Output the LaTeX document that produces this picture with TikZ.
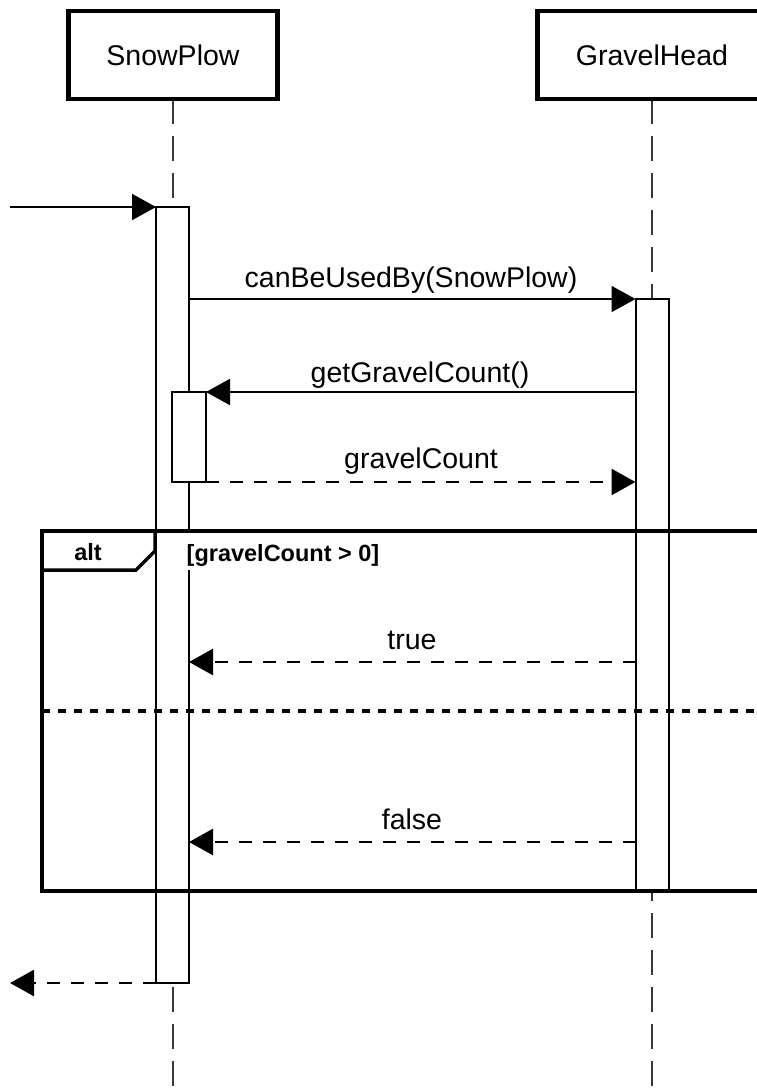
\documentclass[tikz,border=0pt]{standalone}
\usepackage{fontspec}
\setmainfont{Liberation Sans}
\usetikzlibrary{arrows.meta}
\begin{document}
\begin{tikzpicture}[x=1pt,y=-1pt,
  obj/.style={draw=black, line width=4.5pt, fill=white, minimum width=209pt, minimum height=88pt, inner sep=0pt, outer sep=0pt, font=\fontsize{28.5}{34}\selectfont},
  life/.style={draw=black!78, line width=2.5pt, dash pattern=on 25pt off 12pt},
  actbar/.style={draw=black, line width=2pt, fill=white, inner sep=0pt, outer sep=0pt, minimum width=33pt},
  msg/.style={line width=2pt, -{Triangle[length=24pt,width=26pt]}},
  ret/.style={msg, line width=2.5pt, draw=black, dash pattern=on 13pt off 11pt},
  lbl/.style={font=\fontsize{28.5}{34}\selectfont, inner sep=0pt, anchor=base},
  frm/.style={draw=black, line width=4pt},
  guardtxt/.style={font=\bfseries\fontsize{23.5}{28}\selectfont, inner sep=0pt}
]
\useasboundingbox (0,0) rectangle (757,1090);
\fill[white] (0,0) rectangle (757,1090);

% lifelines and participants
\coordinate (snowEnd) at (173,1090);
\coordinate (gravelEnd) at (652,1090);
\coordinate (snowTop) at (173,99);
\coordinate (gravelTop) at (652,99);
\draw[life] (snowTop) -- (snowEnd);
\draw[life] (gravelTop) -- (gravelEnd);
\node[obj] (snow) at (173,55) {SnowPlow};
\node[obj, minimum width=229pt] (gravel) at (652,55) {GravelHead};

% activation bars
\node[actbar, minimum height=776pt, anchor=north] (actS) at (172.5,207) {};
\node[actbar, minimum height=592pt, anchor=north] (actG) at (652,299) {};
\node[actbar, minimum width=34pt, minimum height=90pt, anchor=north] (actN) at (189,392) {};

% alt fragment
\node[guardtxt, fill=white, anchor=base west, text height=28pt, text depth=9pt] (guard) at (186.5,561) {[gravelCount > 0]};
\node[frm, minimum width=757pt, minimum height=360pt, anchor=north west, inner sep=0pt, outer sep=0pt] (alt) at (42,531) {};
\draw[frm, line width=3.5pt, line join=miter] (155,531) -- (155,551) -- (136,570) -- (alt.west |- 0,570);
\node[guardtxt, anchor=base] (altlbl) at (88,560) {alt};
\coordinate (sepY) at (0,711);
\draw[line width=4pt, dash pattern=on 8pt off 8pt] (alt.west |- sepY) -- (alt.east |- sepY);

% messages
\coordinate (inS) at (10,207);
\draw[msg] (inS) -- (actS.north west);

\draw[msg] (actS.east |- actG.north) -- (actG.north west);
\node[lbl] (m1) at (411,287) {canBeUsedBy(SnowPlow)};

\draw[msg] (actG.west |- actN.north) -- (actN.north east);
\node[lbl] (m2) at (420,382) {getGravelCount()};

\draw[ret] (actN.south east) -- (actG.west |- actN.south);
\node[lbl] (m3) at (421,468) {gravelCount};

\coordinate (tY) at (0,662);
\draw[ret] (actG.west |- tY) -- (actS.east |- tY);
\node[lbl] (m4) at (412,649) {true};

\coordinate (fY) at (0,842);
\draw[ret] (actG.west |- fY) -- (actS.east |- fY);
\node[lbl] (m5) at (412,829) {false};

\coordinate (outS) at (10,983);
\draw[ret] (actS.south west) -- (outS);
\end{tikzpicture}
\end{document}
